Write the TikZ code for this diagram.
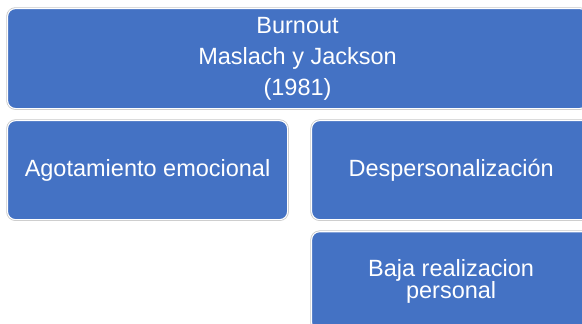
\documentclass[tikz,border=0pt]{standalone}
\usepackage{fontspec}
\setmainfont{Liberation Sans}
\usetikzlibrary{positioning}
\definecolor{boxblue}{RGB}{68,114,196}

\begin{document}
\begin{tikzpicture}[
    x=1pt, y=-1pt,
    node distance=12pt,
    level/.style={rectangle, fill=boxblue, text=white, align=center, rounded corners=8pt,
        draw=white, line width=1.1pt,
        preaction={draw=black!22, line width=2.6pt},
        font=\fontsize{23.5}{31}\selectfont, inner sep=0pt}
]
\useasboundingbox (0,0) rectangle (582,324);

% Top level
\node[level, minimum width=580pt, minimum height=100pt, anchor=north west] (burnout) at (7,8)
    {Burnout\\Maslach y Jackson\\(1981)};

% Dimensions
\node[level, minimum width=280pt, minimum height=99pt, below=11pt of burnout.south west, anchor=north west] (agotamiento)
    {Agotamiento emocional};
\node[level, minimum width=279pt, minimum height=99pt, right=23pt of agotamiento] (desper)
    {Despersonalizaci\'on};
\node[level, minimum width=279pt, minimum height=99pt, below=11pt of desper, font=\fontsize{23.5}{22}\selectfont] (realizacion)
    {Baja realizacion\\personal};

\end{tikzpicture}
\end{document}
